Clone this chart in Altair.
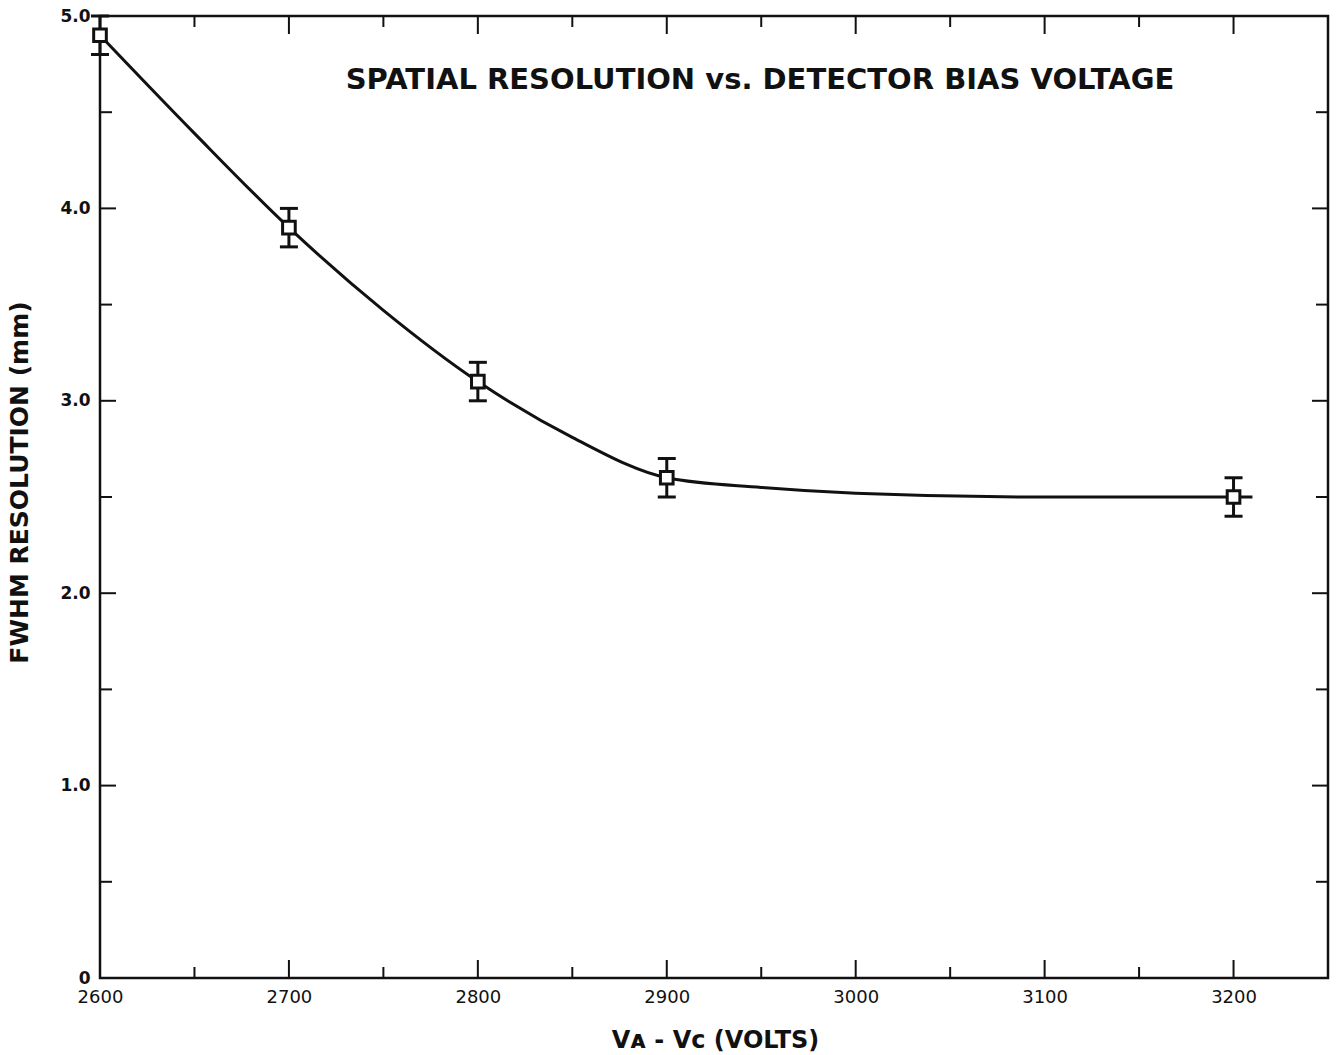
import altair as alt
import numpy as np
import pandas as pd

# Measured points: bias voltage (V) vs. FWHM spatial resolution (mm)
volts = [2600, 2700, 2800, 2900, 3200]
fwhm = [4.9, 3.9, 3.1, 2.6, 2.5]
err_lo = [4.8, 3.8, 3.0, 2.5, 2.4]
err_hi = [5.0, 4.0, 3.2, 2.7, 2.6]

# Hand-drawn smooth curve through the measurements
curve_volts = [2600, 2650, 2700, 2750, 2800, 2850, 2900, 2950, 3000, 3100, 3210]
curve_fwhm = [4.9, 4.39, 3.9, 3.47, 3.1, 2.81, 2.6, 2.55, 2.52, 2.5, 2.5]

x_labels = [2600, 2700, 2800, 2900, 3000, 3100, 3200]
y_labels = [0, 1, 2, 3, 4, 5]

W, H = 1228, 962
X_DOM = [2600, 3250]
Y_DOM = [0, 5]
INK = "#111111"

pts = pd.DataFrame({"v": volts, "r": fwhm, "lo": err_lo, "hi": err_hi})
curve = pd.DataFrame({"v": curve_volts, "r": curve_fwhm})

xs = alt.Scale(domain=X_DOM, nice=False, zero=False)
ys = alt.Scale(domain=Y_DOM, nice=False)

x_axis = alt.Axis(
    values=x_labels, ticks=False, domain=False, grid=False,
    labelFont="DejaVu Sans", labelFontSize=18, labelColor=INK, labelPadding=10,
    labelFlush=False, format="d",
    title="Vᴀ - Vᴄ  (VOLTS)", titleFont="DejaVu Sans", titleFontWeight="bold",
    titleFontSize=24, titleColor=INK, titleX=615, titleY=62,
    titleAlign="center", titleBaseline="middle",
)
y_axis = alt.Axis(
    values=y_labels, ticks=False, domain=False, grid=False,
    labelFont="DejaVu Sans", labelFontWeight="bold", labelFontSize=17,
    labelColor=INK, labelPadding=10, labelFlush=False,
    labelExpr="datum.value == 0 ? '0' : format(datum.value, '.1f')",
    title="FWHM RESOLUTION (mm)", titleFont="DejaVu Sans", titleFontWeight="bold",
    titleFontSize=25, titleColor=INK, titleAngle=-90, titleX=-81, titleY=466,
    titleAlign="center", titleBaseline="middle",
)

line = alt.Chart(curve).mark_line(
    color=INK, strokeWidth=3, interpolate="monotone"
).encode(
    x=alt.X("v:Q", scale=xs, axis=x_axis),
    y=alt.Y("r:Q", scale=ys, axis=y_axis),
)

bars = alt.Chart(pts).mark_rule(color=INK, strokeWidth=3, opacity=1).encode(
    x=alt.X("v:Q", scale=xs), y=alt.Y("lo:Q", scale=ys), y2="hi:Q"
)
cap_lo = alt.Chart(pts).mark_tick(
    color=INK, thickness=3, size=18, orient="horizontal", opacity=1
).encode(x=alt.X("v:Q", scale=xs), y=alt.Y("lo:Q", scale=ys))
cap_hi = alt.Chart(pts).mark_tick(
    color=INK, thickness=3, size=18, orient="horizontal", opacity=1
).encode(x=alt.X("v:Q", scale=xs), y=alt.Y("hi:Q", scale=ys))

markers = alt.Chart(pts).mark_point(
    shape="square", size=160, filled=True, fill="white",
    stroke=INK, strokeWidth=3, opacity=1,
).encode(x=alt.X("v:Q", scale=xs), y=alt.Y("r:Q", scale=ys))

# Inward-pointing frame ticks on all four sides
xt_major = pd.DataFrame({"t": np.arange(2700, 3250, 100)})
xt_minor = pd.DataFrame({"t": np.arange(2650, 3250, 100)})
yt_major = pd.DataFrame({"t": np.arange(1.0, 5.0, 1.0)})
yt_minor = pd.DataFrame({"t": np.arange(0.5, 5.0, 1.0)})


def xticks(df, length):
    bottom = alt.Chart(df).mark_rule(color=INK, strokeWidth=2).encode(
        x=alt.X("t:Q", scale=xs), y=alt.value(H), y2=alt.value(H - length)
    )
    top = alt.Chart(df).mark_rule(color=INK, strokeWidth=2).encode(
        x=alt.X("t:Q", scale=xs), y=alt.value(0), y2=alt.value(length)
    )
    return [bottom, top]


def yticks(df, length):
    left = alt.Chart(df).mark_rule(color=INK, strokeWidth=2).encode(
        y=alt.Y("t:Q", scale=ys), x=alt.value(0), x2=alt.value(length)
    )
    right = alt.Chart(df).mark_rule(color=INK, strokeWidth=2).encode(
        y=alt.Y("t:Q", scale=ys), x=alt.value(W), x2=alt.value(W - length)
    )
    return [left, right]


tick_layers = xticks(xt_major, 18) + xticks(xt_minor, 11) + yticks(yt_major, 16) + yticks(yt_minor, 12)

title = alt.Chart(alt.Data(values=[{}])).mark_text(
    text="SPATIAL RESOLUTION vs. DETECTOR BIAS VOLTAGE",
    font="DejaVu Sans", fontWeight="bold", fontSize=29,
    color=INK, align="center", baseline="middle",
).encode(x=alt.value(660), y=alt.value(64))

chart = alt.layer(
    line, bars, cap_lo, cap_hi, markers, *tick_layers, title
).properties(
    width=W, height=H,
    padding={"left": 100, "top": 16, "right": 9, "bottom": 77},
    autosize=alt.AutoSizeParams(type="none"),
    background="white",
).configure_view(stroke=INK, strokeWidth=2.5)

chart.save("out.html", embed_options={"renderer": "svg", "actions": False})
